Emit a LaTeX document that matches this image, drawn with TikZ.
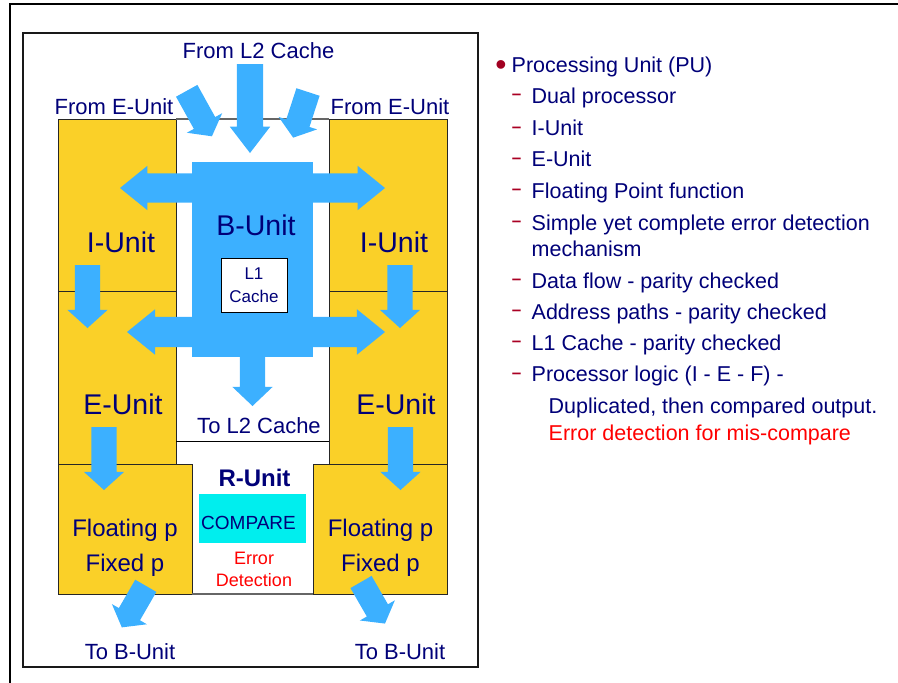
\documentclass[tikz,border=0pt]{standalone}
\usepackage{fontspec}
\setmainfont{Liberation Sans}
\usetikzlibrary{shapes.arrows}
\definecolor{unityellow}{RGB}{250,208,40}
\definecolor{flowblue}{RGB}{60,176,255}
\definecolor{labelblue}{RGB}{0,0,120}
\definecolor{cmpcyan}{RGB}{0,238,238}
\definecolor{dashred}{RGB}{170,0,35}
\newcommand{\pxfont}[1]{\fontsize{#1}{#1}\selectfont}
\tikzstyle{unit}=[draw=black!85,fill=unityellow,line width=0.9pt]
\tikzstyle{lbl}=[text=labelblue,inner sep=0pt,font=\pxfont{22}]
\tikzstyle{unitname}=[text=labelblue,inner sep=0pt,font=\pxfont{28.5}]
\tikzstyle{fp}=[text=labelblue,inner sep=0pt,align=center,font=\fontsize{24}{35}\selectfont]
\tikzstyle{flow}=[single arrow,fill=flowblue,inner xsep=0pt,inner ysep=12.5pt,outer sep=0pt,anchor=tail,
  single arrow head extend=7.5pt,single arrow tip angle=96]
\tikzstyle{diag}=[flow,inner ysep=12pt,single arrow head extend=8pt,single arrow tip angle=106]
\tikzstyle{bus}=[double arrow,fill=flowblue,inner xsep=0pt,inner ysep=14.5pt,outer sep=0pt,
  double arrow head extend=7.5pt,double arrow tip angle=78]
\tikzstyle{item}=[text=labelblue,inner sep=0pt,anchor=base west,font=\pxfont{21.5}]
\tikzstyle{itemdash}=[text=dashred,inner sep=0pt,anchor=base,font=\bfseries\pxfont{17}]

\begin{document}
\begin{tikzpicture}[x=1pt,y=-1pt]
\useasboundingbox (0,0) rectangle (898,683);
\draw[line width=1.3pt] (10,683) -- (10,4) -- (898,4);
\draw[line width=2pt,draw=black!90] (23,33) rectangle (478,667);

\draw[unit] (58,119) rectangle (176,291);
\draw[unit] (58,291) rectangle (176,464);
\draw[unit] (58,464) rectangle (192,594);
\draw[unit] (329,119) rectangle (447,291);
\draw[unit] (329,291) rectangle (447,464);
\draw[unit] (313,464) rectangle (447,594);
\draw[black!60,line width=1.2pt] (176,119) -- (329,119);
\draw[line width=0.9pt] (176,441) -- (329,441);
\draw[black!60,line width=1.2pt] (192,594) -- (313,594);
\fill[flowblue] (192,162) rectangle (313,357);

\path node[bus,minimum height=265pt] (busI) at (252.5,188) {}
      node[bus,minimum height=258pt,inner ysep=15pt] (busE) at (256,332) {};

\path node[flow,rotate=-90,minimum height=89pt,inner ysep=13pt,single arrow head extend=7pt,single arrow tip angle=75] (fromL2) at (250,64) {}
      node[diag,rotate=-61,minimum height=52pt] (fromEL) at (186.7,90.8) {}
      node[diag,rotate=-108,minimum height=48pt] (fromER) at (308,92) {}
      node[flow,rotate=-90,minimum height=63pt] (ieL) at (87.5,265) {}
      node[flow,rotate=-90,minimum height=63pt] (ieR) at (400,265) {}
      node[flow,rotate=-90,minimum height=63pt] (efL) at (104,427) {}
      node[flow,rotate=-90,minimum height=63pt] (efR) at (400.5,427) {}
      node[flow,rotate=-90,minimum height=49pt,single arrow tip angle=93] (toL2) at (252.5,357) {}
      node[diag,rotate=-120,minimum height=48pt] (toBL) at (145.8,585.8) {}
      node[diag,rotate=-60,minimum height=48pt] (toBR) at (361,582) {};

\node[lbl] (l2in) at (258.5,51) {From L2 Cache};
\node[lbl] (einL) at (114,107) {From E-Unit};
\node[lbl] (einR) at (390,107) {From E-Unit};
\node[unitname] (bunit) at (256,225) {B-Unit};
\node[draw=black,fill=white,line width=0.8pt,minimum width=66pt,minimum height=54pt,
  inner sep=0pt,align=center,text=labelblue,font=\fontsize{17}{23.3}\selectfont] (l1) at (254,285) {L1\\Cache};
\node[unitname] (iunitL) at (121,242) {I-Unit};
\node[unitname] (iunitR) at (394,242) {I-Unit};
\node[unitname] (eunitL) at (123,404) {E-Unit};
\node[unitname] (eunitR) at (396,404) {E-Unit};
\node[lbl] (l2out) at (259,426) {To L2 Cache};
\node[text=labelblue,inner sep=0pt,font=\bfseries\pxfont{24}] (runit) at (254.5,478) {R-Unit};
\node[fill=cmpcyan,minimum width=107pt,minimum height=49pt,inner sep=0pt] (cmpbox) at (252.5,518.5) {};
\node[text=labelblue,inner sep=0pt,font=\pxfont{19}] (cmp) at (248.5,523) {COMPARE};
\node[text=red,inner sep=0pt,align=center,font=\fontsize{18}{22}\selectfont] (errdet) at (254,569) {Error\\Detection};
\node[fp] (fpL) at (125,548) {Floating p\\Fixed p};
\node[fp] (fpR) at (380.5,548) {Floating p\\Fixed p};
\node[lbl] (bL) at (130,652) {To B-Unit};
\node[lbl] (bR) at (400,652) {To B-Unit};

\node[text=dashred!95!black,inner sep=0pt,anchor=base,font=\pxfont{32}] (dot) at (501,75) {•};
\node[item] (pu) at (511.5,72.7) {Processing Unit (PU)};
\foreach \i/\y/\t in {1/103.3/{Dual processor},2/135.7/{I-Unit},3/166.7/{E-Unit},
    4/198.3/{Floating Point function},5/230/{Simple yet complete error detection},
    6/288.3/{Data flow - parity checked},7/319/{Address paths - parity checked},
    8/350/{L1 Cache - parity checked},9/381.7/{Processor logic (I - E - F) -}}
  \path node[itemdash,yshift=3.5pt] (dash\i) at (516.5,\y) {–}
        node[item] (item\i) at (531.5,\y) {\t};
\node[item] (item5b) at (531.5,256.7) {mechanism};
\node[item] (item9b) at (548.5,413.3) {Duplicated, then compared output.};
\node[item,text=red] (item9c) at (548.5,440.7) {Error detection for mis-compare};
\end{tikzpicture}
\end{document}
